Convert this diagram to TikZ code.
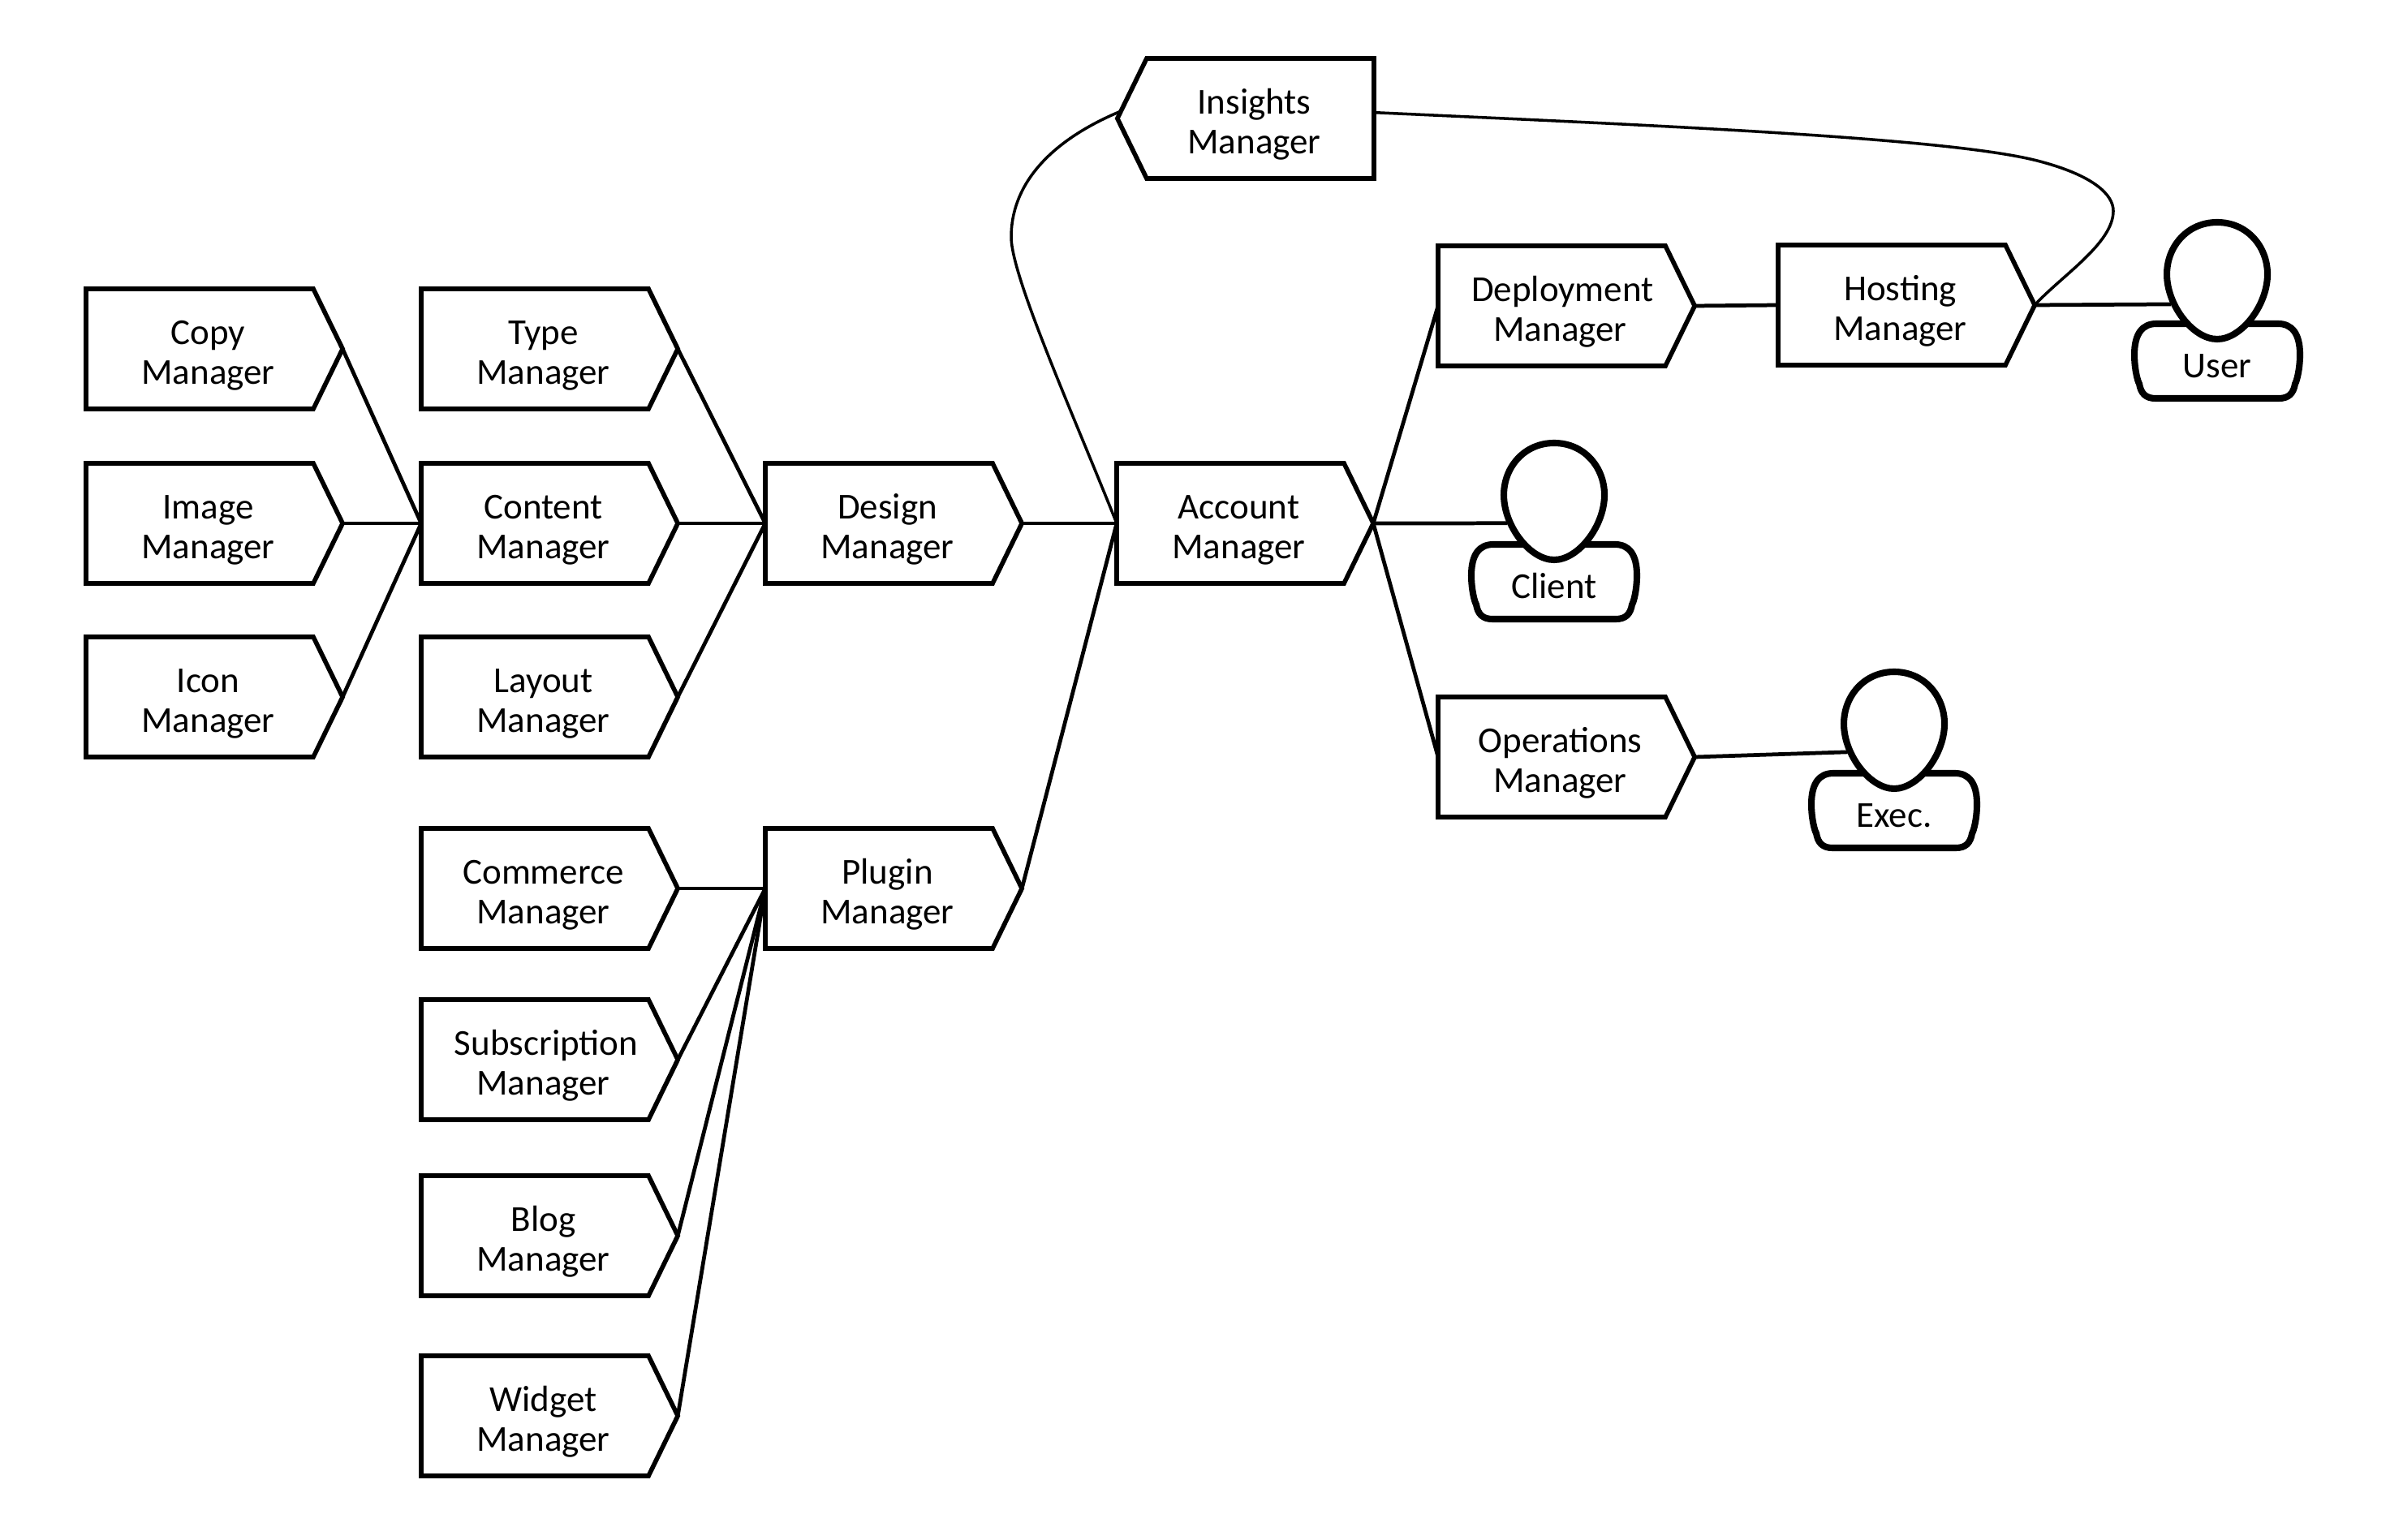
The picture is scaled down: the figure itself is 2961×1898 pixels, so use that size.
\documentclass[tikz,border=0pt]{standalone}
\usepackage{fontspec}
\setmainfont{Carlito}
\usetikzlibrary{shapes.symbols}
\usetikzlibrary{shapes.geometric}
\tikzset{
    manager-box/.style = {signal, signal to=east, signal from=nowhere, signal pointer angle=128, draw=black, fill=white, line width=1.6pt, line join=miter, inner sep=0pt, outer sep=0pt, minimum width=3.16cm, minimum height=1.48cm, text width=2.4cm, text height=9pt, text depth=12.3pt, align=center, font=\fontsize{12.8}{13.9}\selectfont, execute at begin node={\leftskip=0.21cm plus 1fil\rightskip=0pt plus 1fil\relax}},
    manager-box-flip/.style = {manager-box, signal to=west, execute at begin node={\rightskip=0.15cm plus 1fil\leftskip=0pt plus 1fil\relax}},
    link/.style = {draw=black, line width=1.35pt},
    curve-link/.style = {draw=black, line width=1pt},
    person-body/.style = {minimum width=1.98cm, minimum height=0.86cm, inner sep=0pt, outer sep=0pt, text height=11.4pt, text depth=0pt, font=\fontsize{12.8}{13.9}\selectfont},
    person-head/.style = {ellipse, minimum width=1.24cm, minimum height=1.44cm, inner sep=0pt, outer sep=0pt},
    person-line/.style = {draw=black, fill=white, line width=2.3pt},
}
\newcommand{\person}[4]{
    \draw [person-line, shift={(#2,#3)}] (-75,-46) -- (75,-46) .. controls (92,-46) and (102,-34) .. (102,-8) .. controls (102,10) and (98,25) .. (96,28) .. controls (94,40) and (88,46) .. (76,46) -- (-76,46) .. controls (-88,46) and (-94,40) .. (-96,28) .. controls (-98,25) and (-102,10) .. (-102,-8) .. controls (-102,-34) and (-92,-46) .. (-75,-46) -- cycle;
    \node [person-body] (#1) at (#2,#3) {#4};
    \path (#1.center) ++(0,-99) node [person-head] (#1-head) {};
}
\newcommand{\personhead}[1]{
    \draw [person-line, shift={(#1-head.center)}] (0,-72) .. controls (37,-72) and (62,-42) .. (62,-8) .. controls (62,30) and (30,72) .. (0,72) .. controls (-30,72) and (-62,30) .. (-62,-8) .. controls (-62,-42) and (-37,-72) .. (0,-72) -- cycle;
}
\begin{document}
\begin{tikzpicture}[x=0.01cm,y=-0.01cm]
\useasboundingbox (0,0) rectangle (2961,1898);

\node [manager-box, anchor=west] (copy) at (106,430) {Copy\\Manager};
\node [manager-box, anchor=west] (image) at (106,645) {Image\\Manager};
\node [manager-box, anchor=west] (icon) at (106,859) {Icon\\Manager};

\node [manager-box, anchor=west] (type) at (519,430) {Type\\Manager};
\node [manager-box, anchor=west] (content) at (519,645) {Content\\Manager};
\node [manager-box, anchor=west] (layout) at (519,859) {Layout\\Manager};

\node [manager-box, anchor=west] (commerce) at (519,1095) {Commerce\\Manager};
\node [manager-box, anchor=west] (subscription) at (519,1306) {Subscription\\Manager};
\node [manager-box, anchor=west] (blog) at (519,1523) {Blog\\Manager};
\node [manager-box, anchor=west] (widget) at (519,1745) {Widget\\Manager};

\node [manager-box, anchor=west] (design) at (943,645) {Design\\Manager};
\node [manager-box, anchor=west] (plugin) at (943,1095) {Plugin\\Manager};

\node [manager-box, anchor=west] (account) at (1376,645) {Account\\Manager};
\node [manager-box-flip, anchor=east] (insights) at (1693,146) {Insights\\Manager};

\node [manager-box, anchor=west] (deployment) at (1772,377) {Deployment\\Manager};
\node [manager-box, anchor=west] (hosting) at (2191,376) {Hosting\\Manager};
\node [manager-box, anchor=west] (operations) at (1772,933) {Operations\\Manager};

\person{user}{2732}{445}{User}
\person{client}{1915}{717}{Client}
\person{exec}{2334}{999}{Exec.}

\draw [link] (copy.east) -- (content.west);
\draw [link] (image.east) -- (content.west);
\draw [link] (icon.east) -- (content.west);
\draw [link] (type.east) -- (design.west);
\draw [link] (content.east) -- (design.west);
\draw [link] (layout.east) -- (design.west);
\draw [link] (commerce.east) -- (plugin.west);
\draw [link] (subscription.east) -- (plugin.west);
\draw [link] (blog.east) -- (plugin.west);
\draw [link] (widget.east) -- (plugin.west);
\draw [link] (design.east) -- (account.west);
\draw [link] (plugin.east) -- (account.west);
\draw [link] (account.east) -- (deployment.west);
\draw [link] (account.east) -- (client-head.205);
\draw [link] (account.east) -- (operations.west);
\draw [link] (deployment.east) -- (hosting.west);
\draw [link] (hosting.east) -- (user-head.207);
\draw [link] (operations.east) -- (exec-head.205);

\draw [curve-link] (insights.177) .. controls (1290,175) and (1246,230) .. (1246,292) .. controls (1246,340) and (1320,505) .. (account.west);
\draw [curve-link] (insights.3) .. controls (2050,155) and (2400,170) .. (2510,198) .. controls (2580,216) and (2604,240) .. (2604,260) .. controls (2604,300) and (2540,340) .. (hosting.east);

\personhead{user}
\personhead{client}
\personhead{exec}
\end{tikzpicture}
\end{document}
